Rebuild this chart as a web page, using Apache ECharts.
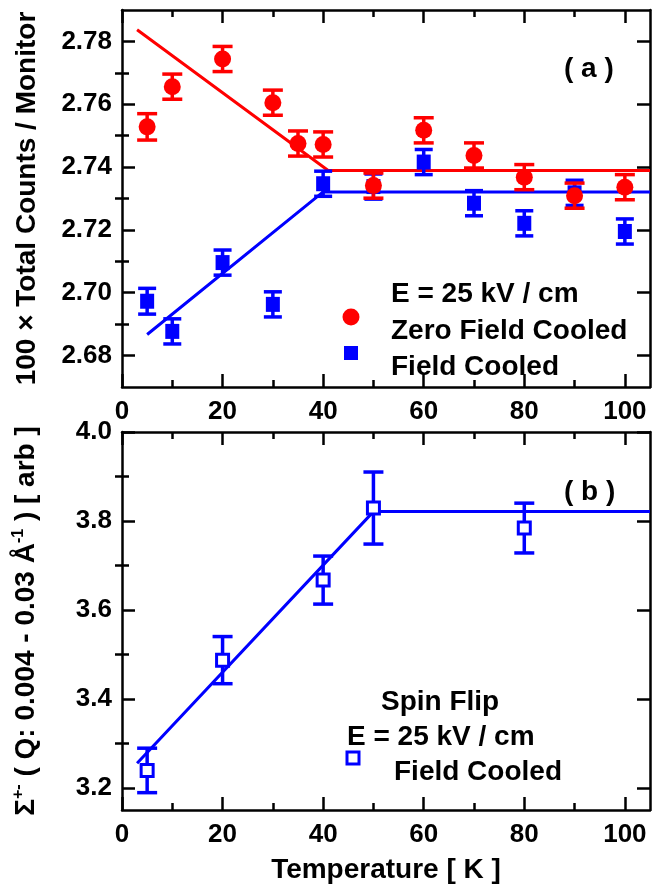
<!DOCTYPE html>
<html>
<head>
<meta charset="utf-8">
<script src="https://cdn.jsdelivr.net/npm/echarts@6/dist/echarts.min.js"></script>
<style>html,body{margin:0;padding:0;background:#fff}#c{width:652px;height:892px}</style>
</head>
<body>
<div id="c"></div>
<script>
// ---- data (panel a) ----
const zfcT   = [5, 10, 20, 30, 35, 40, 50, 60, 70, 80, 90, 100];
const zfcY   = [2.7528, 2.7656, 2.7744, 2.7605, 2.7475, 2.7472, 2.7341, 2.7517, 2.7437, 2.7368, 2.7309, 2.7336];
const zfcErr = [0.0042, 0.0040, 0.0040, 0.0040, 0.0040, 0.0040, 0.0040, 0.0040, 0.0040, 0.0040, 0.0040, 0.0040];
const fcT    = [5, 10, 20, 30, 40, 50, 60, 70, 80, 90, 100];
const fcY    = [2.6973, 2.6877, 2.7096, 2.6963, 2.7347, 2.7338, 2.7416, 2.7285, 2.7221, 2.7318, 2.7195];
const fcErr  = [0.0041, 0.0040, 0.0040, 0.0040, 0.0040, 0.0040, 0.0040, 0.0040, 0.0040, 0.0040, 0.0040];
const zfcFitT = [3, 41, 105];
const zfcFitY = [2.7837, 2.7389, 2.7389];
const fcFitT  = [5, 40, 105];
const fcFitY  = [2.6867, 2.7321, 2.7321];
// ---- data (panel b) ----
const sfT   = [5, 20, 40, 50, 80];
const sfY   = [3.239, 3.487, 3.667, 3.829, 3.784];
const sfErr = [0.050, 0.053, 0.054, 0.081, 0.056];
const sfFitT = [3, 50, 105];
const sfFitY = [3.255, 3.821, 3.821];
// ---- ticks ----
const xMajor  = [0, 20, 40, 60, 80, 100];
const xMinor  = [10, 30, 50, 70, 90];
const yAMajor = [2.68, 2.70, 2.72, 2.74, 2.76, 2.78];
const yAMinor = [2.69, 2.71, 2.73, 2.75, 2.77];
const yBMajor = [3.2, 3.4, 3.6, 3.8, 4.0];
const yBMinor = [3.3, 3.5, 3.7, 3.9];

const FONT = '"Liberation Sans", Arial, Helvetica, sans-serif';
const RED = '#ff0000', BLUE = '#0000ff', BLACK = '#000000';
const zip = (a, b, c) => a.map((v, i) => c ? [v, b[i], c[i]] : [v, b[i]]);

const lineStyleAxis = { color: BLACK, width: 2.5 };
const labelStyle = { color: BLACK, fontFamily: FONT, fontWeight: 'bold', fontSize: 26 };

function xAxes(gridIndex, showLabels) {
  const base = { type: 'value', gridIndex, min: 0, max: 105, splitLine: { show: false } };
  return [
    Object.assign({}, base, { position: 'bottom',
      axisLine: { show: true, onZero: false, lineStyle: lineStyleAxis },
      axisTick: { show: true, inside: true, length: 13, customValues: xMajor, lineStyle: { width: 2.5, color: BLACK } },
      axisLabel: Object.assign({ show: showLabels, customValues: xMajor, margin: 12 }, labelStyle) }),
    Object.assign({}, base, { position: 'bottom',
      axisLine: { show: false },
      axisTick: { show: true, inside: true, length: 7, customValues: xMinor, lineStyle: { width: 2.5, color: BLACK } },
      axisLabel: { show: false } }),
    Object.assign({}, base, { position: 'top',
      axisLine: { show: true, onZero: false, lineStyle: lineStyleAxis },
      axisTick: { show: true, inside: true, length: 13, customValues: xMajor, lineStyle: { width: 2.5, color: BLACK } },
      axisLabel: { show: false } }),
    Object.assign({}, base, { position: 'top',
      axisLine: { show: false },
      axisTick: { show: true, inside: true, length: 7, customValues: xMinor, lineStyle: { width: 2.5, color: BLACK } },
      axisLabel: { show: false } })
  ];
}
function yAxes(gridIndex, min, max, major, minor, digits, name) {
  const base = { type: 'value', gridIndex, min, max, splitLine: { show: false } };
  return [
    Object.assign({}, base, { position: 'left',
      name, nameLocation: 'middle', nameRotate: 90, nameGap: 81,
      nameTextStyle: { color: BLACK, fontFamily: FONT, fontWeight: 'bold', fontSize: 28,
        rich: { n: { fontFamily: FONT, fontWeight: 'bold', fontSize: 28, color: BLACK },
                s: { fontFamily: FONT, fontWeight: 'bold', fontSize: 16, color: BLACK, verticalAlign: 'top', padding: [0, 0, 14, 0] } } },
      axisLine: { show: true, onZero: false, lineStyle: lineStyleAxis },
      axisTick: { show: true, inside: true, length: 13, customValues: major, lineStyle: { width: 2.5, color: BLACK } },
      axisLabel: Object.assign({ show: true, customValues: major, margin: 10, formatter: v => v.toFixed(digits) }, labelStyle) }),
    Object.assign({}, base, { position: 'left',
      axisLine: { show: false },
      axisTick: { show: true, inside: true, length: 7, customValues: minor, lineStyle: { width: 2.5, color: BLACK } },
      axisLabel: { show: false } }),
    Object.assign({}, base, { position: 'right',
      axisLine: { show: true, onZero: false, lineStyle: lineStyleAxis },
      axisTick: { show: true, inside: true, length: 13, customValues: major, lineStyle: { width: 2.5, color: BLACK } },
      axisLabel: { show: false } }),
    Object.assign({}, base, { position: 'right',
      axisLine: { show: false },
      axisTick: { show: true, inside: true, length: 7, customValues: minor, lineStyle: { width: 2.5, color: BLACK } },
      axisLabel: { show: false } })
  ];
}

function errorSeries(name, xi, yi, data, color, hw) {
  return {
    name, type: 'custom', xAxisIndex: xi, yAxisIndex: yi, data,
    renderItem: function (params, api) {
      const x = api.value(0), y = api.value(1), e = api.value(2);
      const t = api.coord([x, y + e]);
      const b = api.coord([x, y - e]);
      const st = { stroke: color, lineWidth: 3.5 };
      return { type: 'group', children: [
        { type: 'line', shape: { x1: t[0], y1: t[1], x2: b[0], y2: b[1] }, style: st },
        { type: 'line', shape: { x1: t[0] - hw, y1: t[1], x2: t[0] + hw, y2: t[1] }, style: st },
        { type: 'line', shape: { x1: b[0] - hw, y1: b[1], x2: b[0] + hw, y2: b[1] }, style: st }
      ] };
    },
    z: 3, silent: true
  };
}

const yNameA = '100 × Total Counts / Monitor';
const yNameB = '{n|Σ}{s|+-}{n| ( Q: 0.004 - 0.03 Å}{s|-1}{n| ) [ arb ]}';

const xs = xAxes(0, true).concat(xAxes(1, true));
xs[4].name = 'Temperature [ K ]';
xs[4].nameLocation = 'middle';
xs[4].nameGap = 46;
xs[4].nameTextStyle = { color: BLACK, fontFamily: FONT, fontWeight: 'bold', fontSize: 28 };

const txt = (left, top, text, extra) => ({ type: 'text', left, top,
  style: Object.assign({ text, fill: BLACK, font: 'bold 28px ' + FONT, textVerticalAlign: 'middle' }, extra || {}) });

const option = {
  animation: false,
  backgroundColor: '#ffffff',
  grid: [
    { left: 122, right: 2, top: 10, height: 377, containLabel: false, outerBoundsMode: 'none' },
    { left: 122, right: 2, top: 432, height: 378, containLabel: false, outerBoundsMode: 'none' }
  ],
  xAxis: xs,
  yAxis: yAxes(0, 2.67, 2.79, yAMajor, yAMinor, 2, yNameA).concat(yAxes(1, 3.15, 4.0, yBMajor, yBMinor, 1, yNameB)),
  series: [
    { name: 'FC fit', type: 'line', xAxisIndex: 0, yAxisIndex: 0, data: zip(fcFitT, fcFitY), symbol: 'none',
      lineStyle: { color: BLUE, width: 3 }, z: 2, silent: true },
    { name: 'ZFC fit', type: 'line', xAxisIndex: 0, yAxisIndex: 0, data: zip(zfcFitT, zfcFitY), symbol: 'none',
      lineStyle: { color: RED, width: 3 }, z: 2, silent: true },
    errorSeries('FC err', 0, 0, zip(fcT, fcY, fcErr), BLUE, 9),
    { name: 'Field Cooled', type: 'scatter', xAxisIndex: 0, yAxisIndex: 0, data: zip(fcT, fcY),
      symbol: 'rect', symbolSize: [14, 15], itemStyle: { color: BLUE, opacity: 1 }, z: 3, silent: true },
    errorSeries('ZFC err', 0, 0, zip(zfcT, zfcY, zfcErr), RED, 10),
    { name: 'Zero Field Cooled', type: 'scatter', xAxisIndex: 0, yAxisIndex: 0, data: zip(zfcT, zfcY),
      symbol: 'circle', symbolSize: 17, itemStyle: { color: RED, opacity: 1 }, z: 3, silent: true },
    { name: 'SF fit', type: 'line', xAxisIndex: 4, yAxisIndex: 4, data: zip(sfFitT, sfFitY), symbol: 'none',
      lineStyle: { color: BLUE, width: 3 }, z: 2, silent: true },
    errorSeries('SF err', 4, 4, zip(sfT, sfY, sfErr), BLUE, 10),
    { name: 'Spin Flip Field Cooled', type: 'scatter', xAxisIndex: 4, yAxisIndex: 4, data: zip(sfT, sfY),
      symbol: 'rect', symbolSize: 12, itemStyle: { color: '#ffffff', borderColor: BLUE, borderWidth: 3, opacity: 1 }, z: 4, silent: true }
  ],
  graphic: [
    txt(564, 55, '( a )'),
    txt(391, 280, 'E = 25 kV / cm'),
    { type: 'circle', shape: { cx: 351, cy: 317, r: 8.5 }, style: { fill: RED } },
    txt(391, 317, 'Zero Field Cooled'),
    { type: 'rect', shape: { x: 344, y: 346, width: 14, height: 14 }, style: { fill: BLUE } },
    txt(391, 353, 'Field Cooled'),
    txt(564, 478, '( b )'),
    txt(381, 688, 'Spin Flip'),
    txt(347, 723, 'E = 25 kV / cm'),
    { type: 'rect', shape: { x: 347, y: 752, width: 12, height: 12 }, style: { fill: '#ffffff', stroke: BLUE, lineWidth: 3 } },
    txt(394, 758, 'Field Cooled')
  ]
};

const chart = echarts.init(document.getElementById('c'), null, { renderer: 'canvas' });
chart.setOption(option);
</script>
</body>
</html>
